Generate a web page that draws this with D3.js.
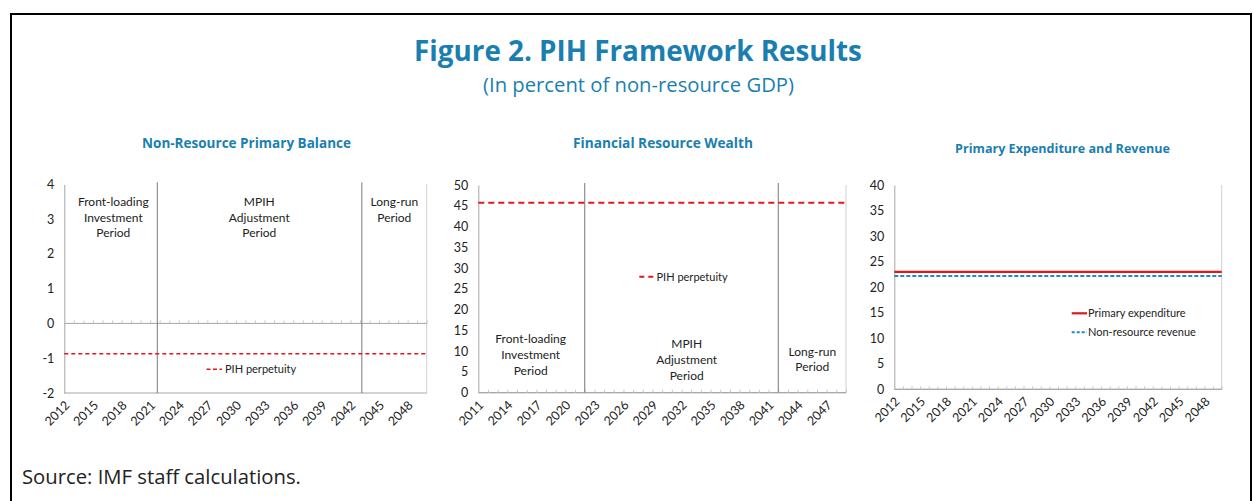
<!DOCTYPE html>
<html>
<head>
<meta charset="utf-8">
<script src="https://cdn.jsdelivr.net/npm/d3@7"></script>
<style>
  html, body { margin: 0; padding: 0; background: #fff; }
  svg { display: block; }
</style>
</head>
<body>
<svg id="chart" width="1253" height="501"></svg>
<script>
// ---------------- DATA ----------------
const figTitle = "Figure 2. PIH Framework Results";
const figSubtitle = "(In percent of non-resource GDP)";
const sourceNote = "Source: IMF staff calculations.";

const panelTitles = ["Non-Resource Primary Balance", "Financial Resource Wealth", "Primary Expenditure and Revenue"];

// Panel 1: Non-Resource Primary Balance
const years1 = [2012,2013,2014,2015,2016,2017,2018,2019,2020,2021,2022,2023,2024,2025,2026,2027,2028,2029,2030,2031,2032,2033,2034,2035,2036,2037,2038,2039,2040,2041,2042,2043,2044,2045,2046,2047,2048,2049,2050];
const pihBalance = [-0.87,-0.87,-0.87,-0.87,-0.87,-0.87,-0.87,-0.87,-0.87,-0.87,-0.87,-0.87,-0.87,-0.87,-0.87,-0.87,-0.87,-0.87,-0.87,-0.87,-0.87,-0.87,-0.87,-0.87,-0.87,-0.87,-0.87,-0.87,-0.87,-0.87,-0.87,-0.87,-0.87,-0.87,-0.87,-0.87,-0.87,-0.87,-0.87];
const yTicks1 = [-2,-1,0,1,2,3,4];
const xLabels1 = [2012,2015,2018,2021,2024,2027,2030,2033,2036,2039,2042,2045,2048];
const breaks1 = [2021.75, 2043.2];

// Panel 2: Financial Resource Wealth
const years2 = [2011,2012,2013,2014,2015,2016,2017,2018,2019,2020,2021,2022,2023,2024,2025,2026,2027,2028,2029,2030,2031,2032,2033,2034,2035,2036,2037,2038,2039,2040,2041,2042,2043,2044,2045,2046,2047,2048,2049];
const pihWealth = [45.7,45.7,45.7,45.7,45.7,45.7,45.7,45.7,45.7,45.7,45.7,45.7,45.7,45.7,45.7,45.7,45.7,45.7,45.7,45.7,45.7,45.7,45.7,45.7,45.7,45.7,45.7,45.7,45.7,45.7,45.7,45.7,45.7,45.7,45.7,45.7,45.7,45.7,45.7];
const yTicks2 = [0,5,10,15,20,25,30,35,40,45,50];
const xLabels2 = [2011,2014,2017,2020,2023,2026,2029,2032,2035,2038,2041,2044,2047];
const breaks2 = [2022, 2042];

// Panel 3: Primary Expenditure and Revenue
const years3 = [2012,2013,2014,2015,2016,2017,2018,2019,2020,2021,2022,2023,2024,2025,2026,2027,2028,2029,2030,2031,2032,2033,2034,2035,2036,2037,2038,2039,2040,2041,2042,2043,2044,2045,2046,2047,2048,2049,2050];
const primaryExpenditure = [23.0,23.0,23.0,23.0,23.0,23.0,23.0,23.0,23.0,23.0,23.0,23.0,23.0,23.0,23.0,23.0,23.0,23.0,23.0,23.0,23.0,23.0,23.0,23.0,23.0,23.0,23.0,23.0,23.0,23.0,23.0,23.0,23.0,23.0,23.0,23.0,23.0,23.0,23.0];
const nonResourceRevenue = [22.2,22.2,22.2,22.2,22.2,22.2,22.2,22.2,22.2,22.2,22.2,22.2,22.2,22.2,22.2,22.2,22.2,22.2,22.2,22.2,22.2,22.2,22.2,22.2,22.2,22.2,22.2,22.2,22.2,22.2,22.2,22.2,22.2,22.2,22.2,22.2,22.2,22.2,22.2];
const yTicks3 = [0,5,10,15,20,25,30,35,40];
const xLabels3 = [2012,2015,2018,2021,2024,2027,2030,2033,2036,2039,2042,2045,2048];

const periodNames = [["Front-loading","Investment","Period"],["MPIH","Adjustment","Period"],["Long-run","Period"]];
const legendPIH = "PIH perpetuity";
const legendExp = "Primary expenditure";
const legendRev = "Non-resource revenue";

// ---------------- STYLE ----------------
const TEAL = "#1a7fb0";
const RED = "#e4161c";
const BLUE = "#1f8cc4";
const AXIS = "#a6a6a6";
const TEXT = "#222";
const HEAD_FONT = "'Open Sans', 'Noto Sans', sans-serif";
const CHART_FONT = "Lato, 'Noto Sans', sans-serif";

const svg = d3.select("#chart");

// frame
svg.append("rect").attr("x", 11).attr("y", 14).attr("width", 1240).attr("height", 500)
  .attr("fill", "none").attr("stroke", "#000").attr("stroke-width", 2);

function fit(sel, target) {
  const fs = parseFloat(sel.attr("font-size"));
  const w = sel.node().getComputedTextLength();
  sel.attr("font-size", (fs * target / w).toFixed(2));
  return sel;
}

fit(svg.append("text").attr("x", 638).attr("y", 61).attr("text-anchor", "middle")
  .attr("font-family", HEAD_FONT).attr("font-weight", "bold").attr("font-size", 26)
  .attr("fill", TEAL).text(figTitle), 448);
fit(svg.append("text").attr("x", 638.5).attr("y", 92).attr("text-anchor", "middle")
  .attr("font-family", HEAD_FONT).attr("font-size", 18)
  .attr("fill", TEAL).text(figSubtitle), 311);
fit(svg.append("text").attr("x", 22).attr("y", 484)
  .attr("font-family", HEAD_FONT).attr("font-size", 18)
  .attr("fill", TEXT).text(sourceNote), 279);

// ---------------- PANELS ----------------
function panel(cfg) {
  const g = svg.append("g");
  const x = d3.scaleLinear().domain(cfg.xDomain).range(cfg.xRange);
  const y = d3.scaleLinear().domain(cfg.yDomain).range(cfg.yRange);
  const [x0, x1] = cfg.xRange;
  const [yb, yt] = cfg.yRange;

  fit(g.append("text").attr("x", cfg.titleX).attr("y", cfg.titleY).attr("text-anchor", "middle")
    .attr("font-family", HEAD_FONT).attr("font-weight", "bold").attr("font-size", 13)
    .attr("fill", TEAL).text(cfg.title), cfg.titleW);

  // y axis
  const ya = g.append("g").attr("transform", `translate(${x0},0)`)
    .call(d3.axisLeft(y).tickValues(cfg.yTicks).tickSize(0).tickPadding(10).tickFormat(d => String(d)));
  ya.select(".domain").attr("stroke", AXIS);
  ya.selectAll("text").attr("font-family", CHART_FONT).attr("font-size", 12.5).attr("fill", TEXT);

  // right border
  g.append("line").attr("x1", x1).attr("x2", x1).attr("y1", yt).attr("y2", yb).attr("stroke", "#d0d0d0");
  // bottom line
  g.append("line").attr("x1", x0).attr("x2", x1).attr("y1", yb).attr("y2", yb).attr("stroke", AXIS);

  // category axis at zero with upward minor ticks
  const za = g.append("g").attr("transform", `translate(0,${y(0)})`)
    .call(d3.axisTop(x).tickValues(cfg.years).tickSize(3).tickFormat(""));
  za.select(".domain").attr("stroke", AXIS).attr("d", `M${x0},0H${x1}`);
  za.selectAll(".tick line").attr("stroke", "#c8c8c8");

  // x labels (rotated)
  g.selectAll("text.xl").data(cfg.xLabels).join("text").attr("class", "xl")
    .attr("transform", d => `translate(${x(d) + 3},${yb + 10}) rotate(-45)`)
    .attr("text-anchor", "end").attr("dy", "0.35em")
    .attr("font-family", CHART_FONT).attr("font-size", 12.5).attr("fill", TEXT)
    .text(d => d);

  // period breaks
  if (cfg.breaks) {
    g.selectAll("line.br").data(cfg.breaks).join("line").attr("class", "br")
      .attr("x1", d => x(d)).attr("x2", d => x(d)).attr("y1", yt - 2).attr("y2", yb)
      .attr("stroke", "#777").attr("stroke-width", 1);
  }
  return { g, x, y };
}

function periodText(g, names, cx, y0, lh) {
  g.selectAll(null).data(names).join("text")
    .attr("x", cx).attr("y", (d, i) => y0 + i * lh).attr("text-anchor", "middle")
    .attr("font-family", CHART_FONT).attr("font-size", 12).attr("fill", TEXT)
    .text(d => d);
}

// Panel 1
const p1 = panel({
  title: panelTitles[0], titleX: 246.5, titleY: 148, titleW: 209,
  xDomain: [years1[0], years1[years1.length - 1]], xRange: [64.3, 426.7],
  yDomain: [-2, 4], yRange: [393, 184.3], yTicks: yTicks1,
  years: years1, xLabels: xLabels1, breaks: breaks1
});
p1.g.append("path").datum(years1.map((yr, i) => [yr, pihBalance[i]]))
  .attr("d", d3.line().x(d => p1.x(d[0])).y(d => p1.y(d[1])))
  .attr("fill", "none").attr("stroke", RED).attr("stroke-width", 1.6).attr("stroke-dasharray", "4,3");
periodText(p1.g, periodNames[0], 113.3, 206, 15.6);
periodText(p1.g, periodNames[1], 259.3, 206, 15.6);
periodText(p1.g, periodNames[2], 394.3, 206, 15.6);
p1.g.append("line").attr("x1", 206.5).attr("x2", 222).attr("y1", 369.3).attr("y2", 369.3)
  .attr("stroke", RED).attr("stroke-width", 1.6).attr("stroke-dasharray", "4,2.5");
p1.g.append("text").attr("x", 225).attr("y", 373).attr("font-family", CHART_FONT).attr("font-size", 11)
  .attr("fill", TEXT).text(legendPIH);

// Panel 2
const p2 = panel({
  title: panelTitles[1], titleX: 663, titleY: 148, titleW: 180,
  xDomain: [years2[0], years2[years2.length - 1]], xRange: [478.3, 846],
  yDomain: [0, 50], yRange: [392.7, 185], yTicks: yTicks2,
  years: years2, xLabels: xLabels2, breaks: breaks2
});
p2.g.append("path").datum(years2.map((yr, i) => [yr, pihWealth[i]]))
  .attr("d", d3.line().x(d => p2.x(d[0])).y(d => p2.y(d[1])))
  .attr("fill", "none").attr("stroke", RED).attr("stroke-width", 2).attr("stroke-dasharray", "6,4");
periodText(p2.g, periodNames[0], 530.7, 343, 16);
periodText(p2.g, periodNames[1], 686.7, 348, 16);
periodText(p2.g, periodNames[2], 812.3, 355.5, 15.5);
p2.g.append("line").attr("x1", 639.3).attr("x2", 654).attr("y1", 276.7).attr("y2", 276.7)
  .attr("stroke", RED).attr("stroke-width", 2).attr("stroke-dasharray", "5,4");
p2.g.append("text").attr("x", 656.5).attr("y", 280.5).attr("font-family", CHART_FONT).attr("font-size", 11)
  .attr("fill", TEXT).text(legendPIH);

// Panel 3
const p3 = panel({
  title: panelTitles[2], titleX: 1062.5, titleY: 153, titleW: 215,
  xDomain: [years3[0], years3[years3.length - 1]], xRange: [894.3, 1221.7],
  yDomain: [0, 40], yRange: [389.3, 185], yTicks: yTicks3,
  years: years3, xLabels: xLabels3, breaks: null
});
p3.g.append("path").datum(years3.map((yr, i) => [yr, nonResourceRevenue[i]]))
  .attr("d", d3.line().x(d => p3.x(d[0])).y(d => p3.y(d[1])))
  .attr("fill", "none").attr("stroke", BLUE).attr("stroke-width", 2).attr("stroke-dasharray", "4,2");
p3.g.append("path").datum(years3.map((yr, i) => [yr, primaryExpenditure[i]]))
  .attr("d", d3.line().x(d => p3.x(d[0])).y(d => p3.y(d[1])))
  .attr("fill", "none").attr("stroke", RED).attr("stroke-width", 2.2);
p3.g.append("line").attr("x1", 1071.7).attr("x2", 1087).attr("y1", 313.3).attr("y2", 313.3)
  .attr("stroke", RED).attr("stroke-width", 2.2);
p3.g.append("text").attr("x", 1088).attr("y", 317).attr("font-family", CHART_FONT).attr("font-size", 11)
  .attr("fill", TEXT).text(legendExp);
p3.g.append("line").attr("x1", 1071.7).attr("x2", 1087).attr("y1", 332.3).attr("y2", 332.3)
  .attr("stroke", BLUE).attr("stroke-width", 2).attr("stroke-dasharray", "3,2");
p3.g.append("text").attr("x", 1088).attr("y", 336).attr("font-family", CHART_FONT).attr("font-size", 11)
  .attr("fill", TEXT).text(legendRev);
</script>
</body>
</html>
